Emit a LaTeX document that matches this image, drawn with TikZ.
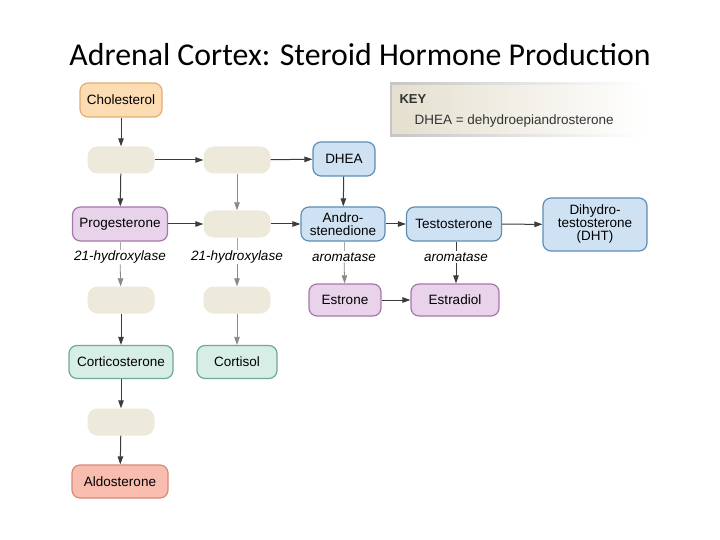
\documentclass[tikz,border=0pt]{standalone}
\usepackage{fontspec}
\setmainfont{Liberation Sans}
\newfontfamily\titlefont{Carlito}
\usetikzlibrary{arrows.meta,shadings}
\definecolor{orfill}{HTML}{FCDDB3}\definecolor{ordraw}{HTML}{E2AE72}
\definecolor{bgfill}{HTML}{EEEADB}
\definecolor{blfill}{HTML}{CFE2F4}\definecolor{bldraw}{HTML}{5F8DB5}
\definecolor{pufill}{HTML}{E8D3EA}\definecolor{pudraw}{HTML}{A677AB}
\definecolor{grfill}{HTML}{D7EEE6}\definecolor{grdraw}{HTML}{6FA896}
\definecolor{safill}{HTML}{F8BDAE}\definecolor{sadraw}{HTML}{D88A7A}
\definecolor{arr}{HTML}{3C3C3C}
\definecolor{keyfill}{HTML}{E4DFCE}
\tikzset{
  hbox/.style={rounded corners=8pt, line width=1.2pt, inner sep=2pt,
    minimum height=34pt, font=\fontsize{13.5}{15}\selectfont, align=center},
  orbox/.style={hbox, draw=ordraw, fill=orfill},
  blbox/.style={hbox, draw=bldraw, fill=blfill},
  pubox/.style={hbox, draw=pudraw, fill=pufill},
  grbox/.style={hbox, draw=grdraw, fill=grfill},
  sabox/.style={hbox, draw=sadraw, fill=safill},
  blank/.style={rounded corners=10pt, fill=bgfill, minimum width=67pt, minimum height=27pt, inner sep=0pt},
  enz/.style={font=\fontsize{13.5}{15}\selectfont\itshape, inner sep=1pt},
  conn/.style={draw=arr, line width=1pt, -{Triangle[length=8pt,width=5.5pt]}},
  lconn/.style={draw=arr!60, line width=0.8pt, -{Triangle[length=8pt,width=5.5pt]}},
  lline/.style={draw=arr!45, line width=0.8pt},
}
\begin{document}
\begin{tikzpicture}[x=1pt,y=-1pt]
\useasboundingbox (0,0) rectangle (720,540);
\fill[white] (0,0) rectangle (720,540);
\node[font=\titlefont\fontsize{31.8}{34}\selectfont] (title) at (360,55) {Adrenal Cortex: Steroid Hormone Production};
% key
\shade[left color=keyfill, right color=white, shading angle=90] (390,83) rectangle (645,137);
\shade[left color=white!55!gray, right color=white] (390,83) rectangle (645,85);
\shade[left color=white!55!gray, right color=white] (390,135) rectangle (645,137);
\fill[white!55!gray] (390,83) rectangle (392,137);
\node[anchor=west, font=\fontsize{13}{15}\selectfont\bfseries, text=black!80] (key) at (396,99) {KEY};
\node[anchor=west, font=\fontsize{13.5}{15}\selectfont, text=black!80] (keytxt) at (411,121) {DHEA = dehydroepiandrosterone};
% nodes
\node[orbox, minimum width=82pt] (chol) at (121,100) {Cholesterol};
\node[blank] (b1) at (121,160) {};
\node[blank] (b2) at (237,160) {};
\node[blbox, minimum width=62pt] (dhea) at (344,159) {DHEA};
\node[pubox, minimum width=95pt] (prog) at (120,224) {Progesterone};
\node[blank] (b3) at (237,224) {};
\node[blbox, minimum width=84pt, inner sep=1pt] (andro) at (343,224) {Andro-\\[-2pt]stenedione};
\node[blbox, minimum width=95pt] (testo) at (454,224) {Testosterone};
\node[blbox, minimum width=104pt, minimum height=53pt, inner sep=1pt] (dht) at (595,224.5) {Dihydro-\\[-2pt]testosterone\\[-2pt](DHT)};
\node[enz] (h1) at (120,257) {21-hydroxylase};
\node[enz] (h2) at (237,257) {21-hydroxylase};
\node[enz] (ar1) at (344,257) {aromatase};
\node[enz] (ar2) at (456,257) {aromatase};
\node[pubox, minimum width=72pt, minimum height=32pt] (estrone) at (345,300) {Estrone};
\node[pubox, minimum width=88pt, minimum height=32pt] (estradiol) at (455,300) {Estradiol};
\node[blank] (b4) at (121,300) {};
\node[blank] (b5) at (237,300) {};
\node[grbox, minimum width=104pt, minimum height=33pt] (cortico) at (121,362) {Corticosterone};
\node[grbox, minimum width=80pt, minimum height=33pt] (cortisol) at (237,362) {Cortisol};
\node[blank] (b6) at (121,422) {};
\node[sabox, minimum width=96pt, minimum height=33pt] (aldo) at (120,481.5) {Aldosterone};
% connectors
\draw[conn] (chol) -- (b1);
\draw[conn] (b1) -- (b2);
\draw[conn] (b2) -- (dhea);
\draw[conn] (b1) -- (prog);
\draw[lconn] (b2) -- (b3);
\draw[conn] (dhea) -- (andro);
\draw[conn] (prog) -- (b3);
\draw[conn] (b3) -- (andro);
\draw[conn] (andro) -- (testo);
\draw[conn] (testo) -- (dht);
\draw[conn] (estrone) -- (estradiol);
\draw[lline] (prog.south -| h1) -- (h1);
\draw[lconn] (h1) -- (b4);
\draw[lline] (b3) -- (h2);
\draw[lconn] (h2) -- (b5);
\draw[lline] (andro.south -| ar1) -- (ar1);
\draw[lconn] (ar1) -- (estrone);
\draw[draw=arr, line width=1pt] (testo.south -| ar2) -- (ar2);
\draw[conn] (ar2) -- (ar2 |- estradiol.north);
\draw[conn] (b4) -- (cortico);
\draw[lconn] (b5) -- (cortisol);
\draw[conn] (cortico) -- (b6);
\draw[conn] (b6) -- (aldo);
\end{tikzpicture}
\end{document}
